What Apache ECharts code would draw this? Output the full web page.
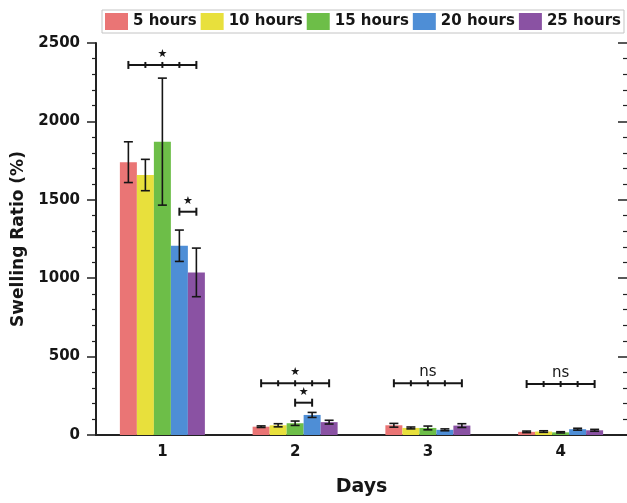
<!DOCTYPE html>
<html><head><meta charset="utf-8">
<script src="https://cdn.jsdelivr.net/npm/echarts@6/dist/echarts.min.js"></script>
<style>html,body{margin:0;padding:0;background:#fff}#c{width:627px;height:503px}</style>
</head><body><div id="c"></div>
<script>
// ---- data ----
const days = ['1', '2', '3', '4'];
const seriesNames = ['5 hours', '10 hours', '15 hours', '20 hours', '25 hours'];
const h5  = [1740, 53, 62, 20];
const h10 = [1658, 62, 45, 22];
const h15 = [1871, 75, 45, 17];
const h20 = [1207, 128, 33, 37];
const h25 = [1037, 82, 60, 30];
const e5  = [130, 5, 12, 5];
const e10 = [100, 10, 6, 5];
const e15 = [405, 14, 12, 4];
const e20 = [100, 16, 6, 6];
const e25 = [155, 12, 12, 6];
const yTicks = [0, 500, 1000, 1500, 2000, 2500];
// significance brackets
const sigDay   = [0, 0, 1, 1, 2, 3];
const sigFrom  = [0, 3, 0, 2, 0, 0];
const sigTo    = [4, 4, 4, 3, 4, 4];
const sigY     = [2360, 1424, 330, 206, 330, 325];
const sigLabel = ['★', '★', '★', '★', 'ns', 'ns'];

// ---- style ----
const colors = ['#EA7575', '#E8E03C', '#6DBE48', '#4E8ED6', '#8A52A3'];
const BW = 17;
const INK = '#161616';
const boldFont = {fontFamily: 'DejaVu Sans', fontWeight: 'bold', fontSize: 15, color: INK};

const values = [h5, h10, h15, h20, h25];
const errs = [e5, e10, e15, e20, e25];

const chart = echarts.init(document.getElementById('c'), null, {renderer: 'canvas'});

const barSeries = seriesNames.map((n, s) => ({
  name: n, type: 'bar', data: values[s], barWidth: BW, barGap: '0%',
  itemStyle: {color: colors[s]}, xAxisIndex: 0, yAxisIndex: 0
}));

const errData = [];
values.forEach((arr, s) => arr.forEach((v, d) => errData.push([d, s, v - errs[s][d], v + errs[s][d]])));

const errSeries = {
  type: 'custom', name: 'err', data: errData, z: 10,
  encode: {x: 0, y: [2, 3]},
  renderItem: function (params, api) {
    const d = api.value(0), s = api.value(1);
    const lo = api.coord([d, api.value(2)]);
    const hi = api.coord([d, api.value(3)]);
    const x = lo[0] + (s - 2) * BW;
    const cw = 4.5;
    const st = {stroke: INK, lineWidth: 1.6};
    return {type: 'group', children: [
      {type: 'line', shape: {x1: x, y1: lo[1], x2: x, y2: hi[1]}, style: st},
      {type: 'line', shape: {x1: x - cw, y1: lo[1], x2: x + cw, y2: lo[1]}, style: st},
      {type: 'line', shape: {x1: x - cw, y1: hi[1], x2: x + cw, y2: hi[1]}, style: st}
    ]};
  }
};

const sigData = sigDay.map((d, i) => [d, sigFrom[i], sigTo[i], sigY[i]]);
const sigSeries = {
  type: 'custom', name: 'sig', data: sigData, z: 11, clip: false,
  encode: {x: 0, y: 3},
  renderItem: function (params, api) {
    const d = api.value(0), f = api.value(1), t = api.value(2), y = api.value(3);
    const c = api.coord([d, y]);
    const x1 = c[0] + (f - 2) * BW, x2 = c[0] + (t - 2) * BW;
    const st = {stroke: INK, lineWidth: 2};
    const ch = [{type: 'line', shape: {x1: x1, y1: c[1], x2: x2, y2: c[1]}, style: st}];
    for (let i = f; i <= t; i++) {
      const x = c[0] + (i - 2) * BW;
      const h = (i === f || i === t) ? 4 : 3;
      ch.push({type: 'line', shape: {x1: x, y1: c[1] - h, x2: x, y2: c[1] + h}, style: st});
    }
    const lab = sigLabel[params.dataIndex];
    const isStar = lab !== 'ns';
    ch.push({type: 'text', style: {
      text: lab, x: (x1 + x2) / 2, y: c[1] - 11,
      align: 'center', verticalAlign: 'middle',
      font: isStar ? '11px "DejaVu Sans"' : '15px "DejaVu Sans"', fill: INK
    }});
    return {type: 'group', children: ch};
  }
};

const axisLineStyle = {color: '#222', width: 2};

chart.setOption({
  animation: false,
  backgroundColor: '#fff',
  grid: {left: 96, top: 43, width: 532, height: 392, containLabel: false},
  legend: {
    data: seriesNames, left: 102, top: 10, itemWidth: 23, itemHeight: 17, itemGap: 4,
    icon: 'rect', selectedMode: false, padding: [3, 3, 3, 3],
    borderColor: '#c4c4c4', borderWidth: 1,
    textStyle: {fontFamily: 'DejaVu Sans', fontWeight: 'bold', fontSize: 15, color: INK}
  },
  xAxis: [
    {type: 'category', data: days, position: 'bottom',
     axisLine: {lineStyle: axisLineStyle}, axisTick: {show: false},
     axisLabel: Object.assign({margin: 10}, boldFont),
     name: 'Days', nameLocation: 'middle', nameGap: 43,
     nameTextStyle: {fontFamily: 'DejaVu Sans', fontWeight: 'bold', fontSize: 19, color: INK}},
    {type: 'category', data: days, position: 'top',
     axisLine: {show: true, lineStyle: axisLineStyle}, axisTick: {show: false}, axisLabel: {show: false}}
  ],
  yAxis: [
    {type: 'value', min: yTicks[0], max: yTicks[yTicks.length - 1], interval: yTicks[1] - yTicks[0],
     axisLine: {show: true, lineStyle: axisLineStyle},
     axisTick: {show: true, length: 9, lineStyle: {color: '#222', width: 1.5}},
     minorTick: {show: true, splitNumber: 5, length: 4, lineStyle: {color: '#222', width: 1.2}},
     splitLine: {show: false},
     axisLabel: Object.assign({margin: 16, formatter: v => String(v)}, boldFont),
     name: 'Swelling Ratio (%)', nameLocation: 'middle', nameGap: 62, nameRotate: 90,
     nameTextStyle: {fontFamily: 'DejaVu Sans', fontWeight: 'bold', fontSize: 17, color: INK}},
    {type: 'value', position: 'right', min: yTicks[0], max: yTicks[yTicks.length - 1], interval: yTicks[1] - yTicks[0],
     axisLine: {show: false},
     axisTick: {show: true, inside: true, length: 9, lineStyle: {color: '#222', width: 1.5}},
     minorTick: {show: true, splitNumber: 5, length: 4, lineStyle: {color: '#222', width: 1.2}},
     splitLine: {show: false}, axisLabel: {show: false}}
  ],
  series: barSeries.concat([errSeries, sigSeries])
});
</script></body></html>
